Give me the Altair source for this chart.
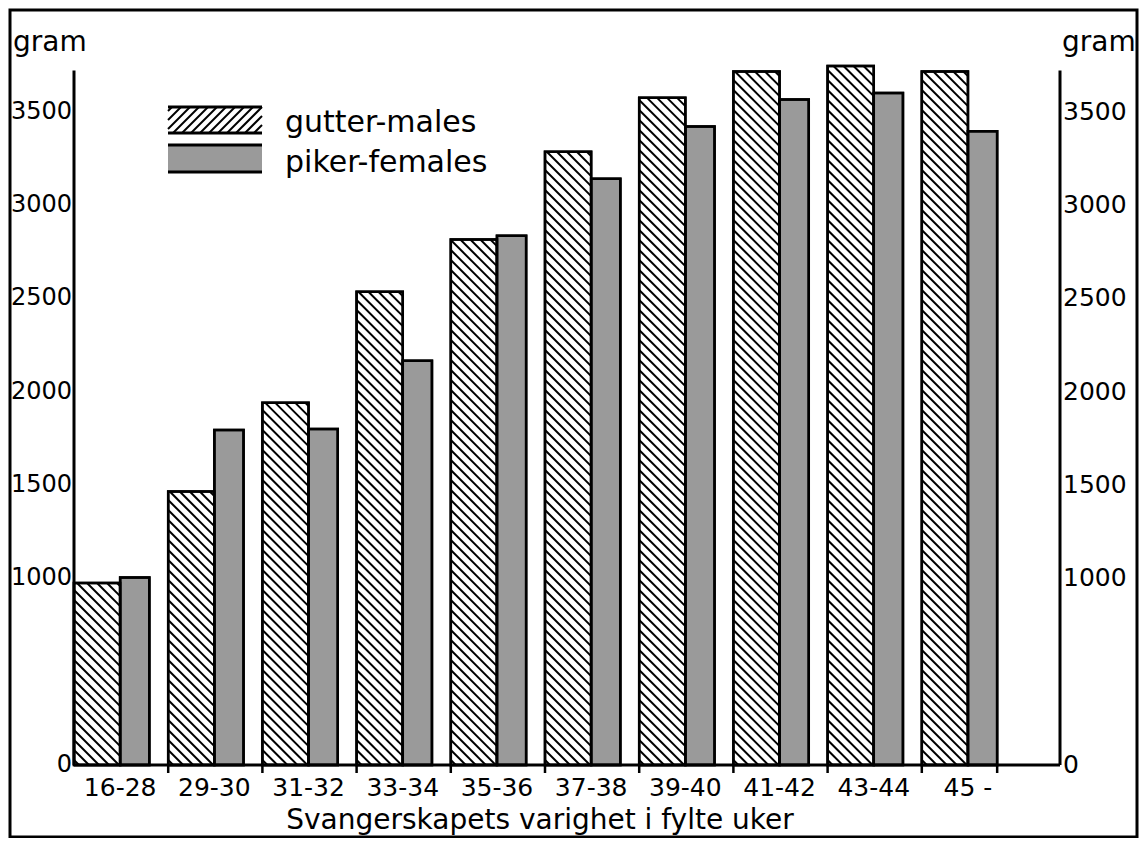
import altair as alt
import pandas as pd

# ---------------- data ----------------
categories = ["16-28", "29-30", "31-32", "33-34", "35-36",
              "37-38", "39-40", "41-42", "43-44", "45 -"]
males = [975, 1465, 1940, 2535, 2815, 3285, 3575, 3715, 3745, 3715]
females = [1005, 1795, 1800, 2165, 2835, 3140, 3420, 3565, 3600, 3395]
y_tick_values = [0, 1000, 1500, 2000, 2500, 3000, 3500]
series_names = ["gutter-males", "piker-females"]
x_title = "Svangerskapets  varighet i fylte uker"
unit_label = "gram"

# ---------------- layout / style ----------------
W, H = 986, 700
YMAX = 3750
STEP_PX = 94.2
XMAX = W / STEP_PX
MALE_W = 0.49
FEMALE_W = 0.31
AXIS_TOP = 3720
FONT = "DejaVu Sans"
GRAY = "#9a9a9a"
HATCH_SPACING = 10

xs = alt.Scale(domain=[0, XMAX], nice=False, zero=False)
ys = alt.Scale(domain=[0, YMAX], nice=False, zero=True)

rows = []
for i, c in enumerate(categories):
    rows.append(dict(cat=c, sex="m", x0=i, x1=i + MALE_W, v=males[i], zero=0))
    rows.append(dict(cat=c, sex="f", x0=i + MALE_W, x1=i + MALE_W + FEMALE_W, v=females[i], zero=0))
bars_df = pd.DataFrame(rows)


def hatch_back(x_left, width_units, value, spacing):
    """'\\' diagonal lines clipped to a bar, in data units."""
    wp = width_units * STEP_PX
    hp = value * H / YMAX
    segs = []
    c = spacing / 2
    while c < wp + hp:
        u0 = max(0.0, c - hp)
        u1 = min(wp, c)
        segs.append(dict(x=x_left + u0 / STEP_PX, y=(c - u0) * YMAX / H,
                         x2=x_left + u1 / STEP_PX, y2=(c - u1) * YMAX / H))
        c += spacing
    return segs


hatch_rows = []
for i, v in enumerate(males):
    hatch_rows += hatch_back(i, MALE_W, v, HATCH_SPACING)
hatch_df = pd.DataFrame(hatch_rows)

# legend box geometry (pixels, relative to plot origin)
LX0, LX1 = 94, 188
LM_Y0, LM_Y1 = 42, 68
LF_Y0, LF_Y1 = 80, 107

leg_hatch = []
lw, lh = LX1 - LX0, LM_Y1 - LM_Y0
c = -lh + 4
while c < lw:
    u0 = max(0.0, c)
    u1 = min(float(lw), c + lh)
    leg_hatch.append(dict(x=LX0 + u0, y=LM_Y1 - (u0 - c), x2=LX0 + u1, y2=LM_Y1 - (u1 - c)))
    c += 9
leg_hatch_df = pd.DataFrame(leg_hatch)

one = pd.DataFrame({"a": [0]})

# ---------------- layers ----------------
frame = alt.Chart(one).mark_rect(fillOpacity=0, stroke="black", strokeWidth=3).encode(
    x=alt.value(-64), x2=alt.value(W + 77), y=alt.value(-55), y2=alt.value(H + 72)
)

bar_fill = alt.Chart(bars_df).mark_rect(stroke="black", strokeWidth=2.5).encode(
    x=alt.X("x0:Q", scale=xs, axis=None),
    x2="x1:Q",
    y=alt.Y("v:Q", scale=ys, axis=None),
    y2="zero:Q",
    fill=alt.Fill("sex:N", scale=alt.Scale(domain=["m", "f"], range=["white", GRAY]), legend=None),
)

hatch = alt.Chart(hatch_df).mark_rule(color="black", strokeWidth=2).encode(
    x=alt.X("x:Q", scale=xs, axis=None), x2="x2:Q",
    y=alt.Y("y:Q", scale=ys, axis=None), y2="y2:Q",
)

bar_outline = alt.Chart(bars_df).mark_rect(fillOpacity=0, stroke="black", strokeWidth=2.5).encode(
    x=alt.X("x0:Q", scale=xs, axis=None),
    x2="x1:Q",
    y=alt.Y("v:Q", scale=ys, axis=None),
    y2="zero:Q",
)

axis_df = pd.DataFrame({"lo": [0], "hi": [AXIS_TOP]})
left_line = alt.Chart(axis_df).mark_rule(color="black", strokeWidth=3).encode(
    x=alt.value(0), y=alt.Y("lo:Q", scale=ys, axis=None), y2="hi:Q"
)
right_line = alt.Chart(axis_df).mark_rule(color="black", strokeWidth=3).encode(
    x=alt.value(W), y=alt.Y("lo:Q", scale=ys, axis=None), y2="hi:Q"
)
base_line = alt.Chart(axis_df).mark_rule(color="black", strokeWidth=3).encode(
    y=alt.Y("lo:Q", scale=ys, axis=None), x=alt.value(0), x2=alt.value(W)
)

tick_pos = list(range(1, len(categories))) + [len(categories) - 1 + MALE_W + FEMALE_W]
ticks = alt.Chart(pd.DataFrame({"xb": tick_pos})).mark_rule(color="black", strokeWidth=2.5).encode(
    x=alt.X("xb:Q", scale=xs, axis=None), y=alt.value(H), y2=alt.value(H + 8)
)

xlab_df = pd.DataFrame({"cat": categories, "xm": [i + MALE_W for i in range(len(categories))]})
x_labels = alt.Chart(xlab_df).mark_text(font=FONT, fontSize=25, align="center",
                                        baseline="alphabetic", color="black").encode(
    x=alt.X("xm:Q", scale=xs, axis=None), y=alt.value(H + 31), text="cat:N"
)

ylab_df = pd.DataFrame({"v": y_tick_values, "t": [str(v) for v in y_tick_values]})
y_labels_left = alt.Chart(ylab_df).mark_text(font=FONT, fontSize=24, align="right",
                                             baseline="middle", color="black").encode(
    y=alt.Y("v:Q", scale=ys, axis=None), x=alt.value(-2), text="t:N"
)
y_labels_right = alt.Chart(ylab_df).mark_text(font=FONT, fontSize=25, align="left",
                                              baseline="middle", color="black").encode(
    y=alt.Y("v:Q", scale=ys, axis=None), x=alt.value(W + 3), text="t:N"
)

unit_df = pd.DataFrame({"t": [unit_label]})
unit_left = alt.Chart(unit_df).mark_text(font=FONT, fontSize=28, align="left",
                                         baseline="alphabetic", color="black").encode(
    x=alt.value(-61), y=alt.value(-14), text="t:N"
)
unit_right = alt.Chart(unit_df).mark_text(font=FONT, fontSize=28, align="left",
                                          baseline="alphabetic", color="black").encode(
    x=alt.value(W + 2), y=alt.value(-14), text="t:N"
)

title = alt.Chart(pd.DataFrame({"t": [x_title]})).mark_text(
    font=FONT, fontSize=28, align="center", baseline="alphabetic", color="black"
).encode(x=alt.value(466), y=alt.value(764), text="t:N")

# legend
leg_f_box = alt.Chart(one).mark_rect(fill=GRAY).encode(
    x=alt.value(LX0), x2=alt.value(LX1), y=alt.value(LF_Y0), y2=alt.value(LF_Y1)
)
leg_hatch_l = alt.Chart(leg_hatch_df).mark_rule(color="black", strokeWidth=2).encode(
    x=alt.X("x:Q", scale=None), x2="x2:Q", y=alt.Y("y:Q", scale=None), y2="y2:Q"
)
leg_lines_df = pd.DataFrame({"yy": [LM_Y0, LM_Y1, LF_Y0, LF_Y1]})
leg_lines = alt.Chart(leg_lines_df).mark_rule(color="black", strokeWidth=3).encode(
    y=alt.Y("yy:Q", scale=None), x=alt.value(LX0), x2=alt.value(LX1)
)
leg_text_df = pd.DataFrame({"t": series_names, "yy": [LM_Y1 - 1, LF_Y1]})
leg_text = alt.Chart(leg_text_df).mark_text(font=FONT, fontSize=30, align="left",
                                            baseline="alphabetic", color="black").encode(
    x=alt.value(211), y=alt.Y("yy:Q", scale=None), text="t:N"
)

chart = alt.layer(
    frame, bar_fill, hatch, bar_outline, left_line, right_line, base_line, ticks,
    x_labels, y_labels_left, y_labels_right, unit_left, unit_right, title,
    leg_f_box, leg_hatch_l, leg_lines, leg_text,
).properties(
    width=W, height=H,
    autosize=alt.AutoSizeParams(type="none"),
    padding={"left": 66, "top": 57, "right": 79, "bottom": 73},
    background="white",
).configure_view(strokeWidth=0)

chart.save("out.html", embed_options={"renderer": "svg", "actions": False})
